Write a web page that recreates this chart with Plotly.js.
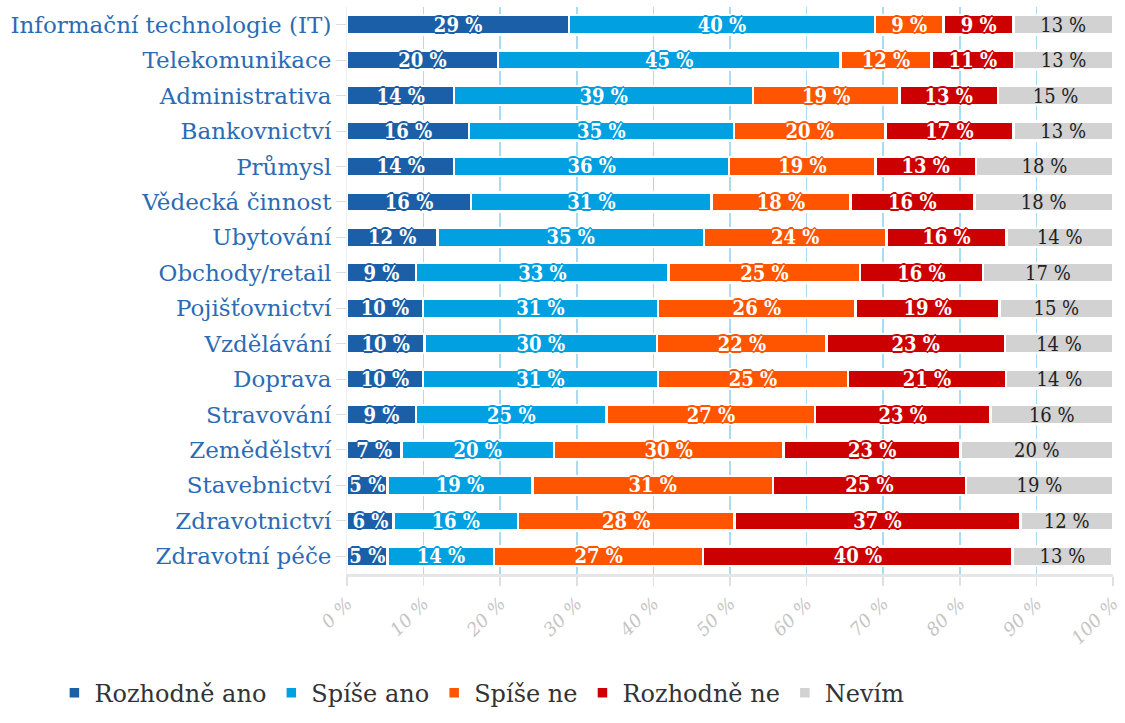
<!DOCTYPE html>
<html>
<head>
<meta charset="utf-8">
<script src="https://cdn.plot.ly/plotly-3.0.1.min.js"></script>
<style>html,body{margin:0;padding:0;background:#fff;}#chart{width:1125px;height:723px;}</style>
</head>
<body>
<div id="chart"></div>
<script>
const categories = ["Informační technologie (IT)","Telekomunikace","Administrativa","Bankovnictví","Průmysl","Vědecká činnost","Ubytování","Obchody/retail","Pojišťovnictví","Vzdělávání","Doprava","Stravování","Zemědělství","Stavebnictví","Zdravotnictví","Zdravotní péče"];
const seriesNames = ["Rozhodně ano","Spíše ano","Spíše ne","Rozhodně ne","Nevím"];
// values in % (labels show them rounded)
const rozhodneAno = [29.0,19.7,14.0,15.9,14.0,16.2,11.8, 9.0, 9.9,10.1, 9.9, 9.0, 7.1, 5.3, 6.1, 5.3];
const spiseAno    = [39.9,44.7,39.0,34.6,35.9,31.4,34.8,33.0,30.7,30.4,30.7,24.9,19.9,18.9,16.2,13.9];
const spiseNe     = [ 9.0,11.9,19.1,19.8,19.1,18.1,23.8,25.0,25.8,22.1,24.8,27.2,30.0,31.4,28.3,27.3];
const rozhodneNe  = [ 9.1,10.8,12.9,16.7,13.1,16.2,15.7,16.0,18.8,23.3,20.6,22.9,23.1,25.2,37.3,40.4];
const nevim       = [13.0,12.9,15.0,13.0,17.9,18.1,13.9,17.0,14.8,14.1,14.0,16.0,19.9,19.2,12.1,13.0];
const tickValues = [0,10,20,30,40,50,60,70,80,90,100];

const colors = ["#1b5fa8","#00a0e1","#ff5500","#cc0000","#d2d2d2"];
const textColors = ["#ffffff","#ffffff","#ffffff","#ffffff","#222222"];
const values = [rozhodneAno, spiseAno, spiseNe, rozhodneNe, nevim];

function outline(c){
  return `1px 1px 0 ${c}, -1px -1px 0 ${c}, 1px -1px 0 ${c}, -1px 1px 0 ${c}, 2px 0 0 ${c}, -2px 0 0 ${c}, 0 2px 0 ${c}, 0 -2px 0 ${c}`;
}

const traces = values.map((v,i)=>({
  type:'bar', orientation:'h', name:seriesNames[i],
  x:v, y:categories,
  marker:{color:colors[i], line:{color:'#ffffff', width:2.5}},
  texttemplate:'%{x:.0f} %', textposition:'inside', insidetextanchor:'middle',
  constraintext:'none',
  textfont:{family:'DejaVu Serif Condensed, DejaVu Serif, serif', size:20, color:textColors[i], weight: i<4 ? 'bold' : 'normal', shadow: i<4 ? outline(colors[i]) : 'none'},
  hoverinfo:'skip'
}));

const layout = {
  width:1125, height:723,
  barmode:'stack', bargap:0.46,
  margin:{l:347, r:12, t:7, b:136},
  paper_bgcolor:'#fff', plot_bgcolor:'#fff',
  showlegend:true,
  legend:{orientation:'h', x:-0.382, xanchor:'left', y:-0.21, yanchor:'middle',
    font:{family:'DejaVu Serif', size:24, color:'#333'}, traceorder:'normal', itemwidth:30},
  xaxis:{range:[0,100], tickvals:tickValues, ticktext:tickValues.map(t=>t+' %'), tickangle:-45,
    showgrid:true, gridcolor:'#a8dcf5', gridwidth:1.5, zeroline:false,
    showline:true, linecolor:'#e6e6e6', linewidth:3,
    ticks:'outside', ticklen:9, tickcolor:'#e0e0e0', tickwidth:1.5,
    tickfont:{family:'DejaVu Serif', size:18, color:'#c4c4c4', style:'italic'}, fixedrange:true},
  yaxis:{categoryorder:'array', categoryarray:categories, autorange:'reversed',
    showgrid:false, zeroline:false, showline:true, linecolor:'#eeeeee', linewidth:1,
    ticks:'outside', ticklen:10, tickcolor:'#dddddd', tickwidth:1,
    tickfont:{family:'DejaVu Serif', size:23, color:'#2b6bb4'}, fixedrange:true}
};

Plotly.newPlot('chart', traces, layout, {displayModeBar:false, staticPlot:true});
</script>
</body>
</html>
